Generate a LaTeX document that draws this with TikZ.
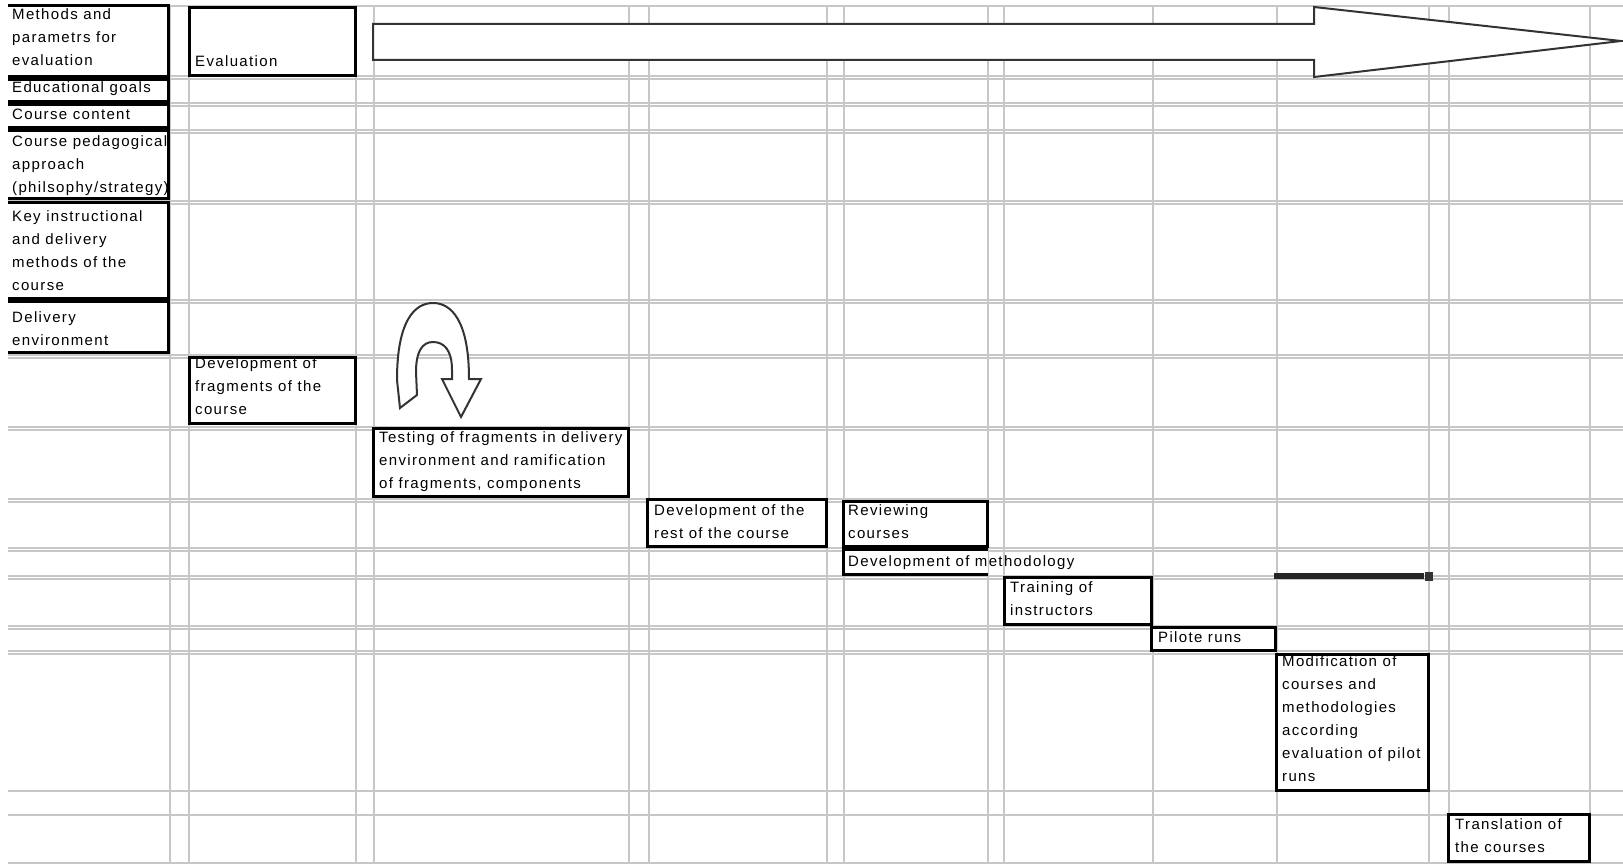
\documentclass[tikz,border=0pt]{standalone}
\usepackage{fontspec}
\setmainfont[LetterSpace=9]{Liberation Sans}
\usepackage{tikz}

\begin{document}
\begin{tikzpicture}[x=1pt,y=-1pt]
  \tikzstyle{gridline}=[draw=black!22, line width=1.5pt]
  \tikzstyle{cell}=[draw=black, line width=3pt, fill=white]
  % text nodes sit on the baseline of their last line
  \tikzstyle{txt}=[anchor=base west, inner sep=0pt, align=left, font=\fontsize{15}{23}\selectfont]
  \tikzstyle{outline}=[draw=black!80, line width=2pt, fill=white]
\useasboundingbox (0,0) rectangle (1623,864);
% sheet grid
\foreach \gx in {170,189,356,374,629,649,827,844,988,1004,1153,1277,1429,1449,1590}{
    \draw[gridline] (\gx,6) -- (\gx,864);
}
\foreach \gy in {6,76,79,103,106,130,133,201,204,300,303,355,358,427,430,499,502,548,551,576,579,626,629,651,654,791,815,863}{
    \draw[gridline] (8,\gy) -- (1623,\gy);
}
% left column
\draw[cell] (8,6) -- (168.5,6) -- (168.5,76.5) -- (8,76.5);
\draw[cell] (8,79.5) -- (168.5,79.5) -- (168.5,102) -- (8,102);
\draw[cell] (8,105) -- (168.5,105) -- (168.5,128) -- (8,128);
\draw[cell] (8,130.5) -- (168.5,130.5) -- (168.5,198.5) -- (8,198.5);
\draw[cell] (8,202) -- (168.5,202) -- (168.5,298) -- (8,298);
\draw[cell] (8,301.5) -- (168.5,301.5) -- (168.5,352) -- (8,352);
\node[txt] (methods) at (12,66) {Methods and\\parametrs for\\evaluation};
\node[txt] (goals) at (12,93) {Educational goals};
\node[txt] (content) at (12,120) {Course content};
\node[txt] (approach) at (12,193) {Course pedagogical\\approach\\(philsophy/strategy)};
\node[txt] (keymeth) at (12,290) {Key instructional\\and delivery\\methods of the\\course};
\node[txt] (delivery) at (12,345) {Delivery\\environment};

% big arrow
\draw[outline] (373,24) -- (1314,24) -- (1314,7) -- (1621,41) -- (1314,77) -- (1314,60) -- (373,60) -- cycle;
% turn-back arrow
\draw[outline] (400,408) -- (397,380) .. controls (397,320) and (415,303) .. (433,303)
    .. controls (451,303) and (469,320) .. (469,379) -- (481,379) -- (461,417) -- (442,379)
    -- (452,379) -- (452,370) .. controls (452,350) and (444,342) .. (433,342)
    .. controls (422,342) and (416,352) .. (416,372) -- (417,395) -- cycle;

% steps
\draw[cell] (189,8) rectangle (355,76);
\node[txt] (evaluation) at (195,67) {Evaluation};
\draw[cell] (189,357) rectangle (355,423.5);
\node[txt] (devfrag) at (195,414) {Development of\\fragments of the\\course};
\draw[cell] (373,428) rectangle (628,496);
\node[txt] (testing) at (379,488) {Testing of fragments in delivery\\environment and ramification\\of fragments, components};
\draw[cell] (647,499) rectangle (826,546);
\node[txt] (devrest) at (654,538) {Development of the\\rest of the course};
\draw[cell] (843,501) rectangle (987,546.5);
\node[txt] (reviewing) at (848,538) {Reviewing\\courses};
\draw[cell] (988,549) -- (843,549) -- (843,574.5) -- (988,574.5);
\node[txt] (devmeth) at (848,566) {Development of methodology};
\draw[cell] (1004,577) rectangle (1151,624);
\node[txt] (training) at (1010,615) {Training of\\instructors};
\draw[cell] (1151,627) rectangle (1275.5,650.5);
\node[txt] (pilot) at (1158,642) {Pilote runs};
\draw[cell] (1276,654.5) rectangle (1428.5,790.5);
\node[txt] (modif) at (1282,781) {Modification of\\courses and\\methodologies\\according\\evaluation of pilot\\runs};
\draw[cell] (1448,814) rectangle (1589,861);
\node[txt] (translation) at (1455,852) {Translation of\\the courses};

% stray bar
\draw[black!85, line width=6pt] (1274,576) -- (1424,576);
\fill[black!80] (1425,572) rectangle (1433,581);
\end{tikzpicture}
\end{document}
